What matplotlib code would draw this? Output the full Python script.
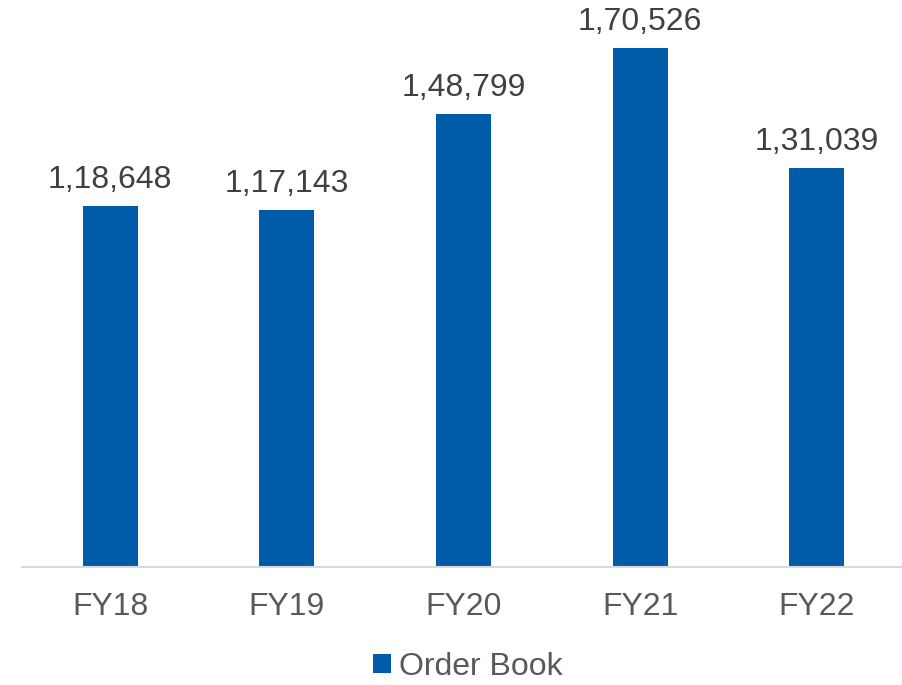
import matplotlib.pyplot as plt
from matplotlib.patches import Patch

plt.rcParams['font.family'] = ['Liberation Sans', 'DejaVu Sans']

years = ['FY18', 'FY19', 'FY20', 'FY21', 'FY22']
order_book = [118648, 117143, 148799, 170526, 131039]


def indian_fmt(v):
    s = str(int(v))
    last3 = s[-3:]
    rest = s[:-3]
    parts = []
    while len(rest) > 2:
        parts.insert(0, rest[-2:])
        rest = rest[:-2]
    if rest:
        parts.insert(0, rest)
    return ','.join(parts + [last3])


fig = plt.figure(figsize=(9.02, 6.85), dpi=100)
ax = fig.add_axes([22 / 902, 118 / 685, 883 / 902, 567 / 685])

x = range(len(years))
bars = ax.bar(x, order_book, width=0.312, color='#005CA9')

for b, v in zip(bars, order_book):
    ax.annotate(indian_fmt(v), (b.get_x() + b.get_width() / 2, v),
                xytext=(0, 8), textcoords='offset points',
                ha='center', va='bottom', fontsize=23, color='#404040')

ax.set_xlim(-0.5, 4.5)
ax.set_ylim(0, 186300)
ax.set_xticks(list(x))
ax.set_xticklabels(years, fontsize=23, color='#595959')
ax.tick_params(axis='x', length=0, pad=18)
ax.set_yticks([])

for s in ['top', 'right', 'left']:
    ax.spines[s].set_visible(False)
ax.spines['bottom'].set_color('#D9D9D9')
ax.spines['bottom'].set_linewidth(1.5)

handle = Patch(facecolor='#005CA9', label='Order Book')
fig.legend(handles=[handle], loc='center', bbox_to_anchor=(468 / 902, 1 - 667 / 685),
           frameon=False, fontsize=23, handlelength=0.55, handleheight=0.55,
           handletextpad=0.25, labelcolor='#595959')

fig.savefig('out.png', dpi=100)
